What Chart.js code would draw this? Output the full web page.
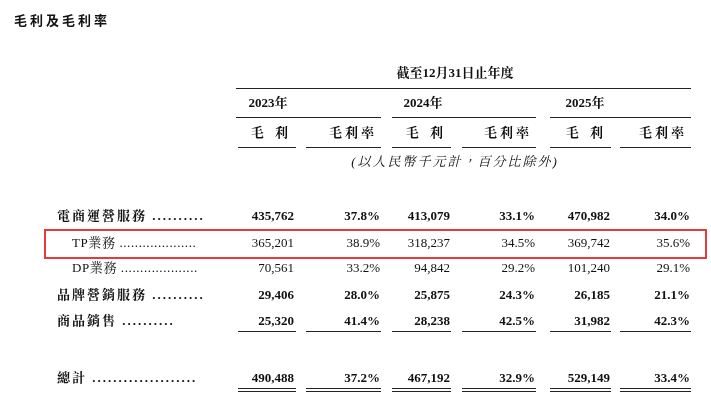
<!DOCTYPE html>
<html><head><meta charset="utf-8">
<script src="https://cdn.jsdelivr.net/npm/chart.js@4"></script>
<style>
body{margin:0;width:711px;height:409px;background:#fff;position:relative;overflow:hidden;font-family:"Liberation Serif","Noto Serif CJK TC","Noto Sans CJK TC",serif;color:#111}
.t{position:absolute;white-space:nowrap;font-size:13px;line-height:16px}
.b{font-weight:bold}
.l{position:absolute;height:1px;background:#222}
#c{position:absolute;left:0;top:0}
</style></head><body>
<canvas id="c" width="711" height="409"></canvas>
<script>
const categories=["電商運營服務","TP業務","DP業務","品牌營銷服務","商品銷售","總計"];
const bold=[true,false,false,true,true,true];
const years=["2023年","2024年","2025年"];
const profit2023=["435,762","365,201","70,561","29,406","25,320","490,488"];
const margin2023=["37.8%","38.9%","33.2%","28.0%","41.4%","37.2%"];
const profit2024=["413,079","318,237","94,842","25,875","28,238","467,192"];
const margin2024=["33.1%","34.5%","29.2%","24.3%","42.5%","32.9%"];
const profit2025=["470,982","369,742","101,240","26,185","31,982","529,149"];
const margin2025=["34.0%","35.6%","29.1%","21.1%","42.3%","33.4%"];

const cols=[profit2023,margin2023,profit2024,margin2024,profit2025,margin2025];
const colRight=[294,380,450,535,610,690];
const colSpan=[[238,296],[306,381],[392,451],[462,536],[550,611],[620,691]];
const rowY=[208,235,260,287,313,370];
function t(txt,x,y,opts={}){const d=document.createElement('div');d.className='t'+(opts.b?' b':'');d.textContent=txt;
 if(opts.align==='r'){d.style.right=(711-x)+'px';}else if(opts.align==='c'){d.style.left=x+'px';d.style.transform='translateX(-50%)';}else d.style.left=x+'px';
 d.style.top=y+'px';if(opts.style)Object.assign(d.style,opts.style);document.body.appendChild(d);}
function ln(x1,x2,y,c){const d=document.createElement('div');d.className='l';d.style.left=x1+'px';d.style.width=(x2-x1)+'px';d.style.top=y+'px';if(c)d.style.background=c;document.body.appendChild(d);}
t("毛利及毛利率",14,12,{b:true,style:{letterSpacing:'3px',fontFamily:'"Noto Sans CJK TC",sans-serif',fontSize:'13px'}});
t("截至12月31日止年度",455,65,{b:true,align:'c'});
ln(236,691,88);
const yc=[268,423,585];
years.forEach((y,i)=>t(y,yc[i],95,{b:true,align:'c'}));
ln(236,381,117);ln(392,536,117);ln(550,691,117);
const sub=["毛 利","毛利率"];
colSpan.forEach((s,i)=>{t(sub[i%2],s[1]-4,125,{b:true,align:'r',style:{letterSpacing:i%2?'3px':'4px'}});ln(s[0],s[1],147);});
t("(以人民幣千元計，百分比除外)",455,154,{align:'c',style:{fontStyle:'italic',letterSpacing:'2px'}});
categories.forEach((c,r)=>{
 const sub=(r===1||r===2);
 const dots=".".repeat(r===5?20:(sub?20:10));
 t(c+" "+dots,sub?72:57,rowY[r],{b:bold[r],style:{letterSpacing:sub?'0.6px':'2px'}});
 cols.forEach((col,j)=>t(col[r],colRight[j],rowY[r],{b:bold[r],align:'r'}));
});
colSpan.forEach(s=>{ln(s[0],s[1],331);ln(s[0],s[1],388);ln(s[0],s[1],391);});
const box=document.createElement('div');Object.assign(box.style,{position:'absolute',left:'44px',top:'229px',width:'659px',height:'26px',border:'2px solid #e53b3b'});document.body.appendChild(box);
new Chart(document.getElementById('c'),{type:'bar',data:{labels:[],datasets:[]},options:{responsive:false,animation:false,plugins:{legend:{display:false}},scales:{x:{display:false},y:{display:false}}}});
</script>
</body></html>
